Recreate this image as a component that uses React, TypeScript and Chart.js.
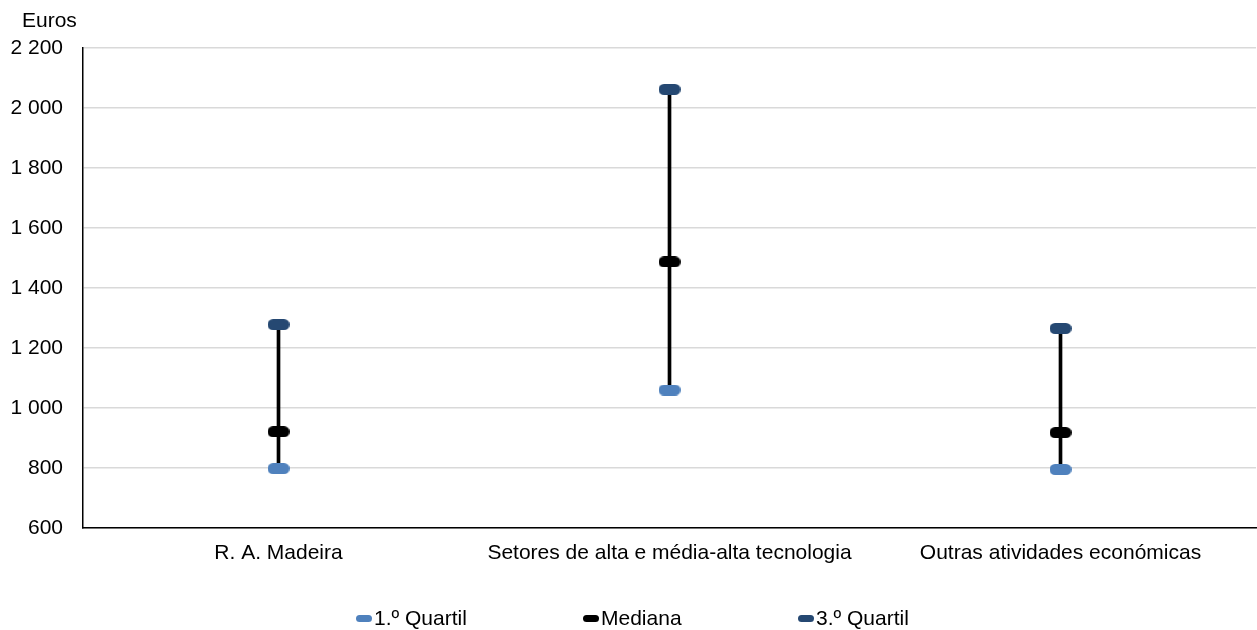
import React, { useEffect, useRef } from "react";
import { Chart, registerables } from "chart.js";

Chart.register(...registerables);

const categories = ["R. A. Madeira", "Setores de alta e média-alta tecnologia", "Outras atividades económicas"];
const quartil1 = [798, 1060, 795];
const mediana = [921, 1487, 918];
const quartil3 = [1278, 2062, 1265];
const seriesNames = ["1.º Quartil", "Mediana", "3.º Quartil"];
const seriesColors = ["#4f81bd", "#000000", "#254872"];

const FONT = "'Liberation Sans', Arial, sans-serif";

function markerCanvas(color: string, w: number, h: number): HTMLCanvasElement {
  const c = document.createElement("canvas");
  c.width = w;
  c.height = h;
  const ctx = c.getContext("2d")!;
  const r = h / 2;
  ctx.fillStyle = color;
  ctx.beginPath();
  ctx.moveTo(r, 0);
  ctx.lineTo(w - r, 0);
  ctx.arc(w - r, r, r, -Math.PI / 2, Math.PI / 2);
  ctx.lineTo(r, h);
  ctx.arc(r, r, r, Math.PI / 2, (3 * Math.PI) / 2);
  ctx.closePath();
  ctx.fill();
  return c;
}

function fmt(v: number): string {
  return String(v).replace(/\B(?=(\d{3})+(?!\d))/g, " ");
}

export default function App() {
  const ref = useRef<HTMLCanvasElement | null>(null);

  useEffect(() => {
    if (!ref.current) return;
    const values = [quartil1, mediana, quartil3];
    const pointDatasets = values.map((vals, i) => ({
      type: "line" as const,
      label: seriesNames[i],
      data: vals,
      showLine: false,
      pointStyle: markerCanvas(seriesColors[i], 22, 11),
      pointRadius: 6,
      backgroundColor: seriesColors[i],
      borderColor: seriesColors[i],
      order: i,
    }));
    const chart = new Chart(ref.current, {
      type: "bar",
      data: {
        labels: categories,
        datasets: [
          {
            type: "bar" as const,
            label: "range",
            data: quartil1.map((q, i) => [q, quartil3[i]]) as any,
            backgroundColor: "#000000",
            barThickness: 3,
            order: 10,
          },
          ...pointDatasets,
        ] as any,
      },
      options: {
        animation: false,
        responsive: false,
        maintainAspectRatio: false,
        layout: { autoPadding: false, padding: { top: 48, right: 1, left: 0, bottom: 0 } },
        plugins: {
          legend: { display: false },
          tooltip: { enabled: false },
          title: { display: false },
        },
        scales: {
          x: {
            offset: true,
            grid: { display: false, drawTicks: false },
            border: { display: true, color: "#000000", width: 1.5 },
            ticks: {
              color: "#000000",
              font: { family: FONT, size: 21 },
              padding: 13,
              maxRotation: 0,
            },
            afterFit: (s: any) => {
              s.height = 102;
              s.paddingLeft = 0;
              s.paddingRight = 0;
            },
          },
          y: {
            min: 600,
            max: 2200,
            grid: { color: "#d9d9d9", lineWidth: 1.5, drawTicks: false },
            border: { display: true, color: "#000000", width: 1.5 },
            ticks: {
              stepSize: 200,
              color: "#000000",
              font: { family: FONT, size: 21 },
              padding: 20,
              callback: (v: any) => fmt(Number(v)),
            },
            afterFit: (s: any) => {
              s.width = 83;
              s.paddingLeft = 0;
              s.paddingRight = 0;
            },
          },
        },
      },
    });
    return () => chart.destroy();
  }, []);

  const legendItems = [
    { x: 356, text: seriesNames[0], color: seriesColors[0] },
    { x: 583, text: seriesNames[1], color: seriesColors[1] },
    { x: 798, text: seriesNames[2], color: seriesColors[2] },
  ];

  return (
    <div style={{ position: "absolute", left: 0, top: 0, width: 1257, height: 630, background: "#fff", fontFamily: FONT }}>
      <canvas ref={ref} width={1257} height={630} style={{ position: "absolute", left: 0, top: 0 }} />
      <div style={{ position: "absolute", left: 22, top: 8, fontSize: 21, lineHeight: "24px", color: "#000" }}>Euros</div>
      {legendItems.map((it) => (
        <div
          key={it.text}
          style={{ position: "absolute", left: it.x, top: 606, height: 24, display: "flex", alignItems: "center", fontSize: 21, color: "#000", whiteSpace: "nowrap" }}
        >
          <span style={{ display: "inline-block", width: 16, height: 7, borderRadius: 4, background: it.color, marginRight: 2 }} />
          <span>{it.text}</span>
        </div>
      ))}
    </div>
  );
}
